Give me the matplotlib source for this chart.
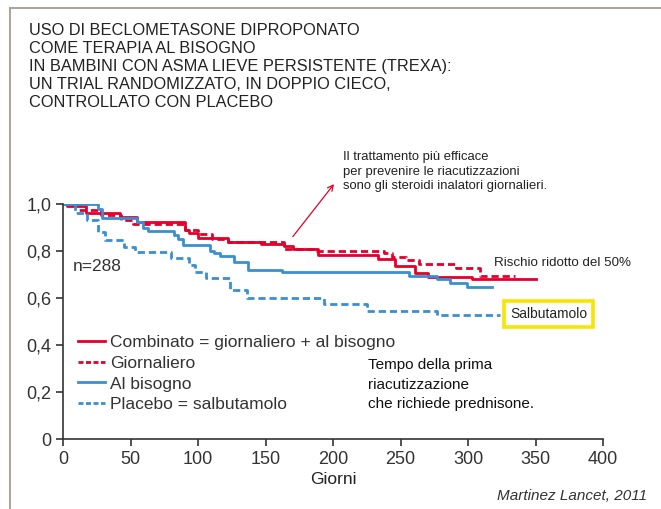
import matplotlib
matplotlib.use('Agg')
import matplotlib.pyplot as plt
from matplotlib.lines import Line2D
from matplotlib.ticker import FuncFormatter

# Kaplan-Meier curves (day of step, value after step)
combinato_days = [0, 3, 17, 42, 55, 90, 93, 100, 122, 147, 164, 170, 189, 233, 246, 261, 270, 303, 350]
combinato_surv = [1.0, 0.99, 0.96, 0.945, 0.925, 0.89, 0.875, 0.855, 0.84, 0.83, 0.82, 0.81, 0.785, 0.765, 0.735, 0.705, 0.69, 0.68, 0.68]

giornaliero_days = [0, 12, 28, 43, 52, 90, 100, 110, 122, 164, 187, 238, 244, 254, 264, 291, 309, 335]
giornaliero_surv = [1.0, 0.975, 0.955, 0.93, 0.915, 0.89, 0.872, 0.85, 0.84, 0.81, 0.80, 0.79, 0.776, 0.762, 0.745, 0.728, 0.694, 0.694]

bisogno_days = [0, 26, 29, 55, 59, 63, 82, 85, 89, 109, 112, 116, 127, 137, 162, 256, 277, 287, 299, 318]
bisogno_surv = [1.0, 0.98, 0.94, 0.925, 0.90, 0.885, 0.87, 0.85, 0.825, 0.80, 0.79, 0.78, 0.755, 0.72, 0.71, 0.695, 0.68, 0.665, 0.645, 0.645]

placebo_days = [0, 9, 18, 26, 31, 45, 53, 80, 93, 98, 106, 124, 136, 193, 225, 277, 324]
placebo_surv = [1.0, 0.96, 0.93, 0.88, 0.845, 0.815, 0.797, 0.77, 0.74, 0.712, 0.685, 0.634, 0.598, 0.573, 0.546, 0.528, 0.528]

legend_labels = ['Combinato = giornaliero + al bisogno', 'Giornaliero',
                 'Al bisogno', 'Placebo = salbutamolo']

title_lines = ['USO DI BECLOMETASONE DIPROPONATO',
               'COME TERAPIA AL BISOGNO',
               'IN BAMBINI CON ASMA LIEVE PERSISTENTE (TREXA):',
               'UN TRIAL RANDOMIZZATO, IN DOPPIO CIECO,',
               'CONTROLLATO CON PLACEBO']

RED = '#e4002b'
BLUE = '#3a8fd2'
plt.rcParams['font.family'] = ['Liberation Sans', 'DejaVu Sans']

fig = plt.figure(figsize=(6.61, 5.09), dpi=100)
ax = fig.add_axes([63 / 661, 70 / 509, 540 / 661, 235 / 509])

dash = (0, (2.6, 1.4))
ax.step(combinato_days, combinato_surv, where='post', color=RED, lw=2)
ax.step(giornaliero_days, giornaliero_surv, where='post', color=RED, lw=2, linestyle=dash)
ax.step(bisogno_days, bisogno_surv, where='post', color=BLUE, lw=2)
ax.step(placebo_days, placebo_surv, where='post', color=BLUE, lw=2, linestyle=dash)

ax.set_xlim(0, 400)
ax.set_ylim(0, 1.0)
ax.set_xticks(range(0, 401, 50))
ax.set_yticks([0, 0.2, 0.4, 0.6, 0.8, 1.0])
ax.yaxis.set_major_formatter(FuncFormatter(lambda v, p: '0' if v == 0 else f'{v:.1f}'.replace('.', ',')))
for s in ['top', 'right']:
    ax.spines[s].set_visible(False)
for s in ['left', 'bottom']:
    ax.spines[s].set_color('#333333')
    ax.spines[s].set_linewidth(1.2)
ax.tick_params(colors='#333333', labelsize=13, length=5, width=1.2)
ax.set_xlabel('Giorni', fontsize=12.5, color='#222222', labelpad=3)

# legend
handles = [Line2D([], [], color=RED, lw=2),
           Line2D([], [], color=RED, lw=2, linestyle=(0, (1.8, 0.9))),
           Line2D([], [], color=BLUE, lw=2),
           Line2D([], [], color=BLUE, lw=2, linestyle=(0, (1.8, 0.9)))]
ax.legend(handles, legend_labels, loc='upper left', bbox_to_anchor=(78 / 661, 1 - 335 / 509),
          bbox_transform=fig.transFigure, frameon=False, fontsize=12.5, handlelength=1.55,
          handletextpad=0.3, labelspacing=0.32, borderaxespad=0, borderpad=0,
          labelcolor='#333333')

ax.text(7.4, 0.733, 'n=288', fontsize=12.5, color='#333333', va='center')
ax.text(319, 0.75, 'Rischio ridotto del 50%', fontsize=9.6, color='#222222', va='center')
ax.text(331, 0.531, 'Salbutamolo', fontsize=9.9, color='#222222', va='center',
        bbox=dict(boxstyle='square,pad=0.45', fc='white', ec='#f7e600', lw=2.6))
ax.text(226, 0.23, 'Tempo della prima\nriacutizzazione\nche richiede prednisone.',
        fontsize=11, color='#111111', va='center', linespacing=1.5)

ax.annotate('', xy=(202, 1.094), xytext=(169, 0.852),
            arrowprops=dict(arrowstyle='->', color=RED, lw=0.9, mutation_scale=10),
            annotation_clip=False)
fig.text(343 / 661, 1 - 171.7 / 509,
         'Il trattamento più efficace\nper prevenire le riacutizzazioni\nsono gli steroidi inalatori giornalieri.',
         fontsize=9.4, color='#222222', va='center', linespacing=1.29)

fig.text(29 / 661, 1 - 66.5 / 509, '\n'.join(title_lines), fontsize=11.8, color='#222222',
         va='center', linespacing=1.24)
fig.text(647 / 661, 1 - 496 / 509, 'Martinez Lancet, 2011', fontsize=11, style='italic',
         color='#333333', ha='right', va='center')

# frame of the panel
fig.add_artist(Line2D([10 / 661, 1], [1 - 8 / 509] * 2, color='#a89c94', lw=1.3))
fig.add_artist(Line2D([10 / 661] * 2, [0, 1 - 8 / 509], color='#a89c94', lw=1.3))

fig.savefig('out.png', dpi=100)
